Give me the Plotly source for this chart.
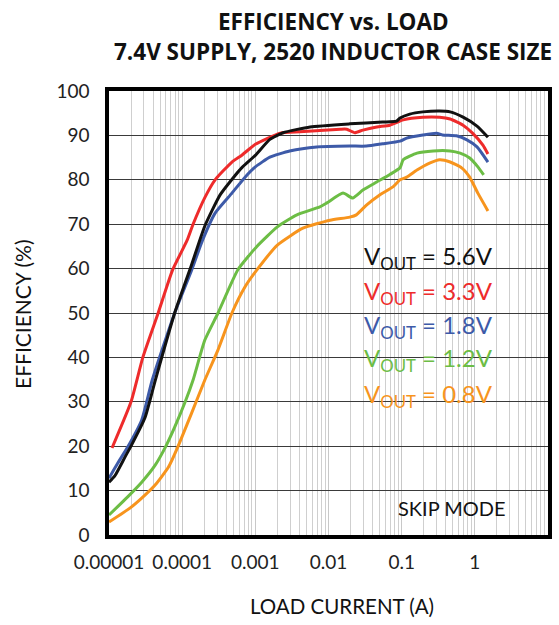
import plotly.graph_objects as go

# ---- data (load current in A, efficiency in %) ----
x_56 = [1e-5, 1.2e-5, 1.66e-5, 2.04e-5, 3.1e-5, 4.3e-5, 7.9e-5, 1.29e-4, 2.04e-4, 3.3e-4,
        4.9e-4, 6.6e-4, 1e-3, 1.58e-3, 2.4e-3, 5.6e-3, 0.0195, 0.055, 0.085, 0.095,
        0.129, 0.195, 0.33, 0.46, 0.69, 1.07, 1.51]
y_56 = [11.9, 13.3, 17.6, 20.3, 26.4, 34.9, 50, 60, 69.6, 76.6,
        80.3, 82.8, 85.5, 89.1, 90.6, 91.9, 92.6, 93, 93.2, 93.9,
        94.8, 95.3, 95.5, 95.3, 94.1, 92.1, 89.6]

x_33 = [1.1e-5, 2e-5, 2.9e-5, 4.7e-5, 7.4e-5, 1.17e-4, 1.41e-4, 2.04e-4, 2.82e-4, 4.79e-4,
        6.6e-4, 1e-3, 2.19e-3, 4.07e-3, 0.0145, 0.0178, 0.0229, 0.0295, 0.0457, 0.069,
        0.105, 0.195, 0.33, 0.46, 0.69, 0.93, 1.29, 1.51]
y_33 = [19.6, 30, 40, 50, 59.7, 66.4, 70, 76, 80, 84,
        85.6, 88, 90.5, 90.8, 91.4, 91.4, 90.6, 91.2, 91.9, 92.3,
        93.5, 94.1, 94.1, 93.7, 92.3, 90.5, 87.8, 85.8]

x_18 = [1e-5, 1.32e-5, 1.8e-5, 2.8e-5, 3.9e-5, 7.9e-5, 1.35e-4, 1.9e-4, 2.82e-4, 4.79e-4,
        7.24e-4, 1e-3, 1.58e-3, 2.95e-3, 6.9e-3, 0.0195, 0.033, 0.055, 0.095, 0.117,
        0.195, 0.3, 0.36, 0.56, 0.78, 1.07, 1.51]
y_18 = [12.8, 16.2, 19.8, 25.9, 34.9, 50, 59.7, 66.4, 72.5, 77,
        80.6, 82.9, 85.1, 86.5, 87.4, 87.6, 87.6, 88.1, 88.7, 89.4,
        90.1, 90.5, 90.1, 89.9, 89, 87.4, 84]

x_12 = [1e-5, 1.8e-5, 2.8e-5, 4.3e-5, 5.9e-5, 7.9e-5, 1.1e-4, 1.41e-4, 2.04e-4, 3.09e-4,
        5.75e-4, 1.05e-3, 2e-3, 3.7e-3, 7.6e-3, 9.5e-3, 0.0158, 0.0214, 0.0295, 0.0457,
        0.069, 0.095, 0.105, 0.162, 0.27, 0.46, 0.63, 0.85, 1.1, 1.32]
y_12 = [4.5, 8.6, 11.9, 15.8, 19.8, 24.3, 30, 34.9, 43.9, 50,
        59.7, 65, 69.4, 72.1, 73.9, 74.8, 77, 75.9, 77.7, 79.5,
        81.2, 82.7, 84.5, 86, 86.5, 86.5, 86, 84.9, 82.9, 81.1]

x_08 = [1e-5, 1.95e-5, 2.8e-5, 4.3e-5, 6.5e-5, 8.7e-5, 1.35e-4, 2.04e-4, 3.09e-4, 4.79e-4,
        7.24e-4, 1.05e-3, 2e-3, 4.47e-3, 0.0105, 0.0195, 0.024, 0.033, 0.05, 0.076,
        0.095, 0.117, 0.162, 0.245, 0.33, 0.46, 0.66, 0.85, 1.1, 1.51]
y_08 = [2.9, 6.1, 8.3, 11.3, 15.3, 19.8, 27.5, 34.9, 41.7, 50,
        55.9, 59.7, 65.3, 69.1, 70.9, 71.6, 72.1, 74.3, 76.6, 78.4,
        80, 80.6, 82.2, 83.8, 84.5, 84, 82.7, 80.6, 77, 73]

series_names = ["V<sub>OUT</sub> = 5.6V", "V<sub>OUT</sub> = 3.3V", "V<sub>OUT</sub> = 1.8V",
                "V<sub>OUT</sub> = 1.2V", "V<sub>OUT</sub> = 0.8V"]
series_x = [x_56, x_33, x_18, x_12, x_08]
series_y = [y_56, y_33, y_18, y_12, y_08]
colors = ["#111111", "#ee2b2b", "#3d5aa8", "#6cbd45", "#f7941d"]

x_tickvals = [1e-5, 1e-4, 1e-3, 1e-2, 1e-1, 1, 10]
x_ticktext = ["0.00001", "0.0001", "0.001", "0.01", "0.1", "1", "10"]

FONT = "Lato"

fig = go.Figure()
for i in reversed(range(5)):
    fig.add_trace(go.Scatter(x=series_x[i], y=series_y[i], mode="lines",
                             line=dict(color=colors[i], width=3, shape="spline", smoothing=0.5),
                             showlegend=False, hoverinfo="skip"))

W, H = 559, 625
# plot area (page px): left 109, right 548, top 91, bottom 535
L, R, T, B = 109, W - 548, 91, H - 535
pw = W - L - R
ph = H - T - B

def px2x(px):
    return (px - L) / pw

def py2y(py):
    return (H - B - py) / ph

shapes = [
    dict(type="rect", xref="paper", yref="y", x0=px2x(358), x1=px2x(497), y0=28.2, y1=67.6,
         fillcolor="white", line=dict(width=0), layer="below"),
    dict(type="rect", xref="paper", yref="y", x0=px2x(398), x1=px2x(507), y0=3.0, y1=8.9,
         fillcolor="white", line=dict(width=0), layer="below"),
]

annotations = []
label_py = [257, 292, 326, 360, 395]
for i in range(5):
    annotations.append(dict(xref="paper", yref="paper", x=px2x(362), y=py2y(label_py[i]),
                            xanchor="left", yanchor="middle", showarrow=False,
                            text=series_names[i], font=dict(family=FONT, size=24, color=colors[i])))
annotations.append(dict(xref="paper", yref="paper", x=px2x(452), y=py2y(508), xanchor="center",
                        yanchor="middle", showarrow=False, text="SKIP MODE",
                        font=dict(family=FONT, size=20, color="#111111")))
annotations.append(dict(xref="paper", yref="paper", x=px2x(333), y=py2y(21),
                        xanchor="center", yanchor="middle", showarrow=False,
                        text="<b>EFFICIENCY vs. LOAD</b>",
                        font=dict(family="Open Sans", size=22.5, color="#111111")))
annotations.append(dict(xref="paper", yref="paper", x=px2x(333), y=py2y(51),
                        xanchor="center", yanchor="middle", showarrow=False,
                        text="<b>7.4V SUPPLY, 2520 INDUCTOR CASE SIZE</b>",
                        font=dict(family="Open Sans", size=22.5, color="#111111")))
annotations.append(dict(xref="paper", yref="paper", x=px2x(22), y=py2y(314),
                        xanchor="center", yanchor="middle", showarrow=False, textangle=-90,
                        text="EFFICIENCY (%)", font=dict(family=FONT, size=21, color="#111111")))
annotations.append(dict(xref="paper", yref="paper", x=px2x(342), y=py2y(606),
                        xanchor="center", yanchor="middle", showarrow=False,
                        text="LOAD CURRENT (A)", font=dict(family=FONT, size=20.5, color="#111111")))

fig.update_layout(
    width=W, height=H,
    margin=dict(l=L, r=R, t=T, b=B, autoexpand=False),
    paper_bgcolor="white", plot_bgcolor="white",
    shapes=shapes, annotations=annotations,
    xaxis=dict(type="log", range=[-5, 1], tickvals=x_tickvals, ticktext=x_ticktext,
               automargin=False,
               showgrid=True, gridcolor="#c8c8c8", gridwidth=1.3,
               minor=dict(dtick="D1", showgrid=True, gridcolor="#cfcfcf", gridwidth=1.3),
               showline=True, linecolor="black", linewidth=3.5, mirror=True,
               ticks="outside", ticklen=7, tickcolor="rgba(0,0,0,0)",
               tickfont=dict(family=FONT, size=19, color="#222222"), zeroline=False),
    yaxis=dict(range=[0, 100], dtick=10, showgrid=True, gridcolor="#3a3a3a", gridwidth=1.3,
               automargin=False,
               showline=True, linecolor="black", linewidth=3.5, mirror=True,
               ticks="outside", ticklen=12, tickcolor="rgba(0,0,0,0)",
               tickfont=dict(family=FONT, size=19, color="#222222"), zeroline=False),
)

# remove the default page margin so the 559x625 figure fills the window exactly
page_fix = ("document.documentElement.style.margin='0';document.body.style.margin='0';"
            "document.documentElement.style.overflow='hidden';document.body.style.overflow='hidden';")

fig.write_html("out.html", post_script=page_fix, config={"displayModeBar": False})
